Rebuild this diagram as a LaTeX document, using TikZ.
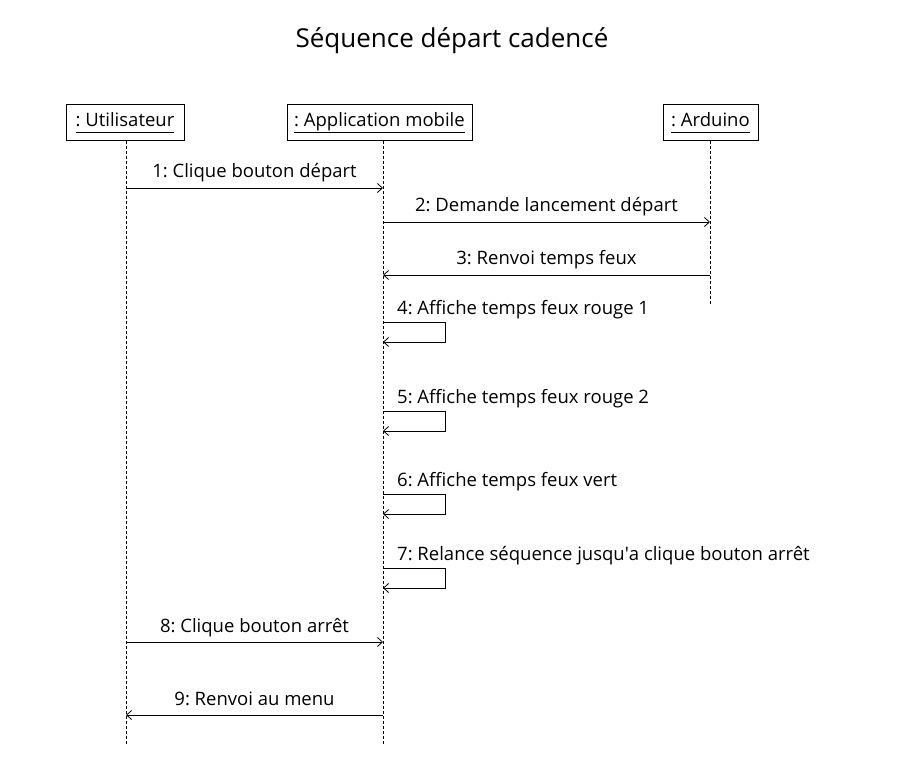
\documentclass[tikz,border=0pt]{standalone}
\usepackage{fontspec}
\setmainfont{Open Sans}
\frenchspacing
\usetikzlibrary{arrows.meta,positioning}
\newcommand{\objname}[1]{\underline{\vphantom{p}#1}}
\tikzset{object/.style={draw, line width=0.8pt, minimum height=36pt, inner sep=2pt,
                        font=\fontsize{18.5}{22}\selectfont},
         lifeline/.style={line width=0.7pt, dash pattern=on 3pt off 2pt},
         msg/.style={line width=0.8pt, -{Straight Barb[length=5pt,width=9pt]}},
         msglabel/.style={font=\fontsize{18.5}{22}\selectfont, inner sep=0pt, anchor=base},
         selfmsg/.style={msg, rounded corners=0pt}}

\begin{document}
\begin{tikzpicture}[x=1pt, y=-1pt]
		\useasboundingbox (0,0) rectangle (897,775);
		% titre
		\node[font=\fontsize{26}{30}\selectfont] (title) at (452,41) {Séquence départ cadencé};
		% objets
		\node[object, minimum width=118pt] (user) at (125,122.5) {\objname{: Utilisateur}};
		\node[object, minimum width=185pt] (app) at (379.5,122.5) {\objname{: Application mobile}};
		\node[object, minimum width=95pt] (ard) at (710.5,122.5) {\objname{: Arduino}};
		% lignes de vie
		\coordinate (userend) at (126,745);
		\coordinate (append) at (383,745);
		\coordinate (ardend) at (710,305);
		\draw[lifeline] (user.south -| userend) -- (userend);
		\draw[lifeline] (app.south -| append) -- (append);
		\draw[lifeline] (ard.south -| ardend) -- (ardend);
		% messages
		\coordinate (u1) at (126,188);  \coordinate (a1) at (383,188);
		\coordinate (a2) at (383,222);  \coordinate (r2) at (710,222);
		\coordinate (r3) at (710,275);  \coordinate (a3) at (383,275);
		\coordinate (u8) at (126,642);  \coordinate (a8) at (383,642);
		\coordinate (a9) at (383,715);  \coordinate (u9) at (126,715);
		\draw[msg] (u1) -- node[msglabel, yshift=10pt] (m1) {1: Clique bouton départ} (a1);
		\draw[msg] (a2) -- node[msglabel, yshift=10pt] (m2) {2: Demande lancement départ} (r2);
		\draw[msg] (r3) -- node[msglabel, yshift=10pt] (m3) {3: Renvoi temps feux} (a3);
		\draw[msg] (u8) -- node[msglabel, yshift=10pt] (m8) {8: Clique bouton arrêt} (a8);
		\draw[msg] (a9) -- node[msglabel, yshift=10pt] (m9) {9: Renvoi au menu} (u9);
		% messages reflexifs
		\foreach \n/\y/\txt in {4/322/{4: Affiche temps feux rouge 1},
		                        5/411/{5: Affiche temps feux rouge 2},
		                        6/494/{6: Affiche temps feux vert},
		                        7/568/{7: Relance séquence jusqu\textquotesingle a clique bouton arrêt}}
		{
			\coordinate (s\n) at (383,\y);
			\coordinate (e\n) at (383,\y+20);
			\draw[selfmsg] (s\n) -- ++(62,0) |- (e\n);
			\node[msglabel, anchor=base west, xshift=14pt, yshift=7.5pt] (m\n) at (s\n) {\txt};
		}
	\end{tikzpicture}
\end{document}
